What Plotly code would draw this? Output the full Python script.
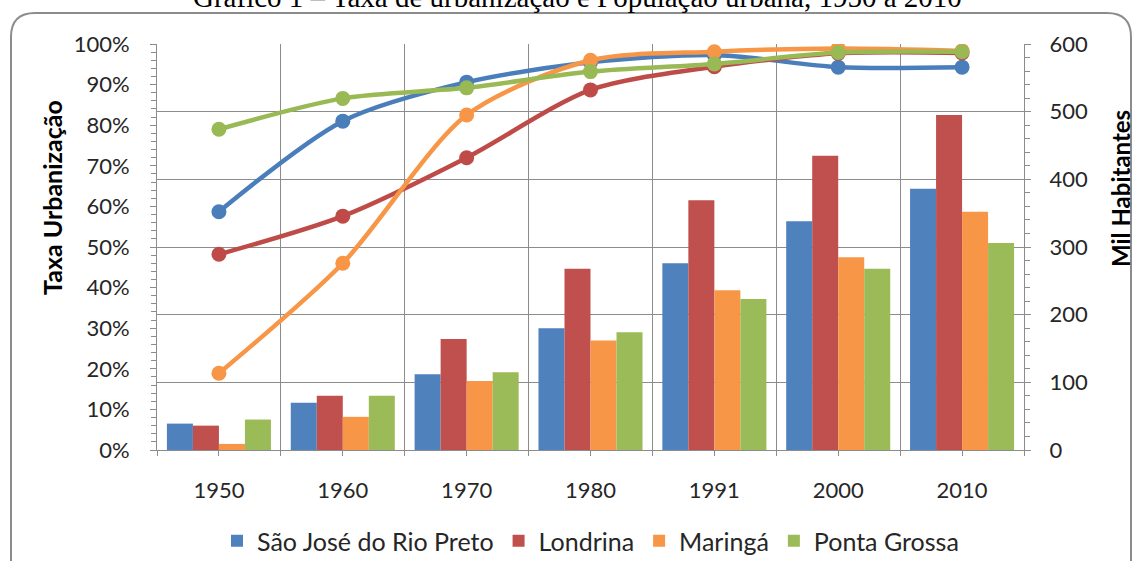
import plotly.graph_objects as go

years = ["1950", "1960", "1970", "1980", "1991", "2000", "2010"]
cities = ["São José do Rio Preto", "Londrina", "Maringá", "Ponta Grossa"]

# Taxa de urbanização (fração)
urb_sjrp = [0.587, 0.810, 0.906, 0.955, 0.973, 0.943, 0.943]
urb_lond = [0.482, 0.576, 0.720, 0.887, 0.944, 0.977, 0.978]
urb_mar = [0.189, 0.460, 0.825, 0.960, 0.981, 0.989, 0.983]
urb_pg = [0.790, 0.866, 0.892, 0.932, 0.951, 0.979, 0.981]

# População urbana (mil habitantes)
pop_sjrp = [39, 70, 112, 180, 276, 338, 386]
pop_lond = [36, 80, 164, 268, 369, 435, 495]
pop_mar = [9, 49, 102, 162, 236, 285, 352]
pop_pg = [45, 80, 115, 174, 223, 268, 306]

bar_colors = ["#4F81BD", "#C0504D", "#F79646", "#9BBB59"]
line_colors = ["#4A7EBB", "#BE4B48", "#F79646", "#98B954"]

urb = [urb_sjrp, urb_lond, urb_mar, urb_pg]
pop = [pop_sjrp, pop_lond, pop_mar, pop_pg]

xpos = list(range(len(years)))

FONT = "Lato"
TXT = "#262626"
GRID = "#8C8C8C"

fig = go.Figure()
for name, vals, col in zip(cities, pop, bar_colors):
    fig.add_trace(go.Bar(x=xpos, y=vals, name=name, marker=dict(color=col, line=dict(width=0)),
                         yaxis="y", legendgroup=name))
for name, vals, col in zip(cities, urb, line_colors):
    fig.add_trace(go.Scatter(x=xpos, y=vals, name=name, mode="lines+markers",
                             line=dict(color=col, width=4.5, shape="spline", smoothing=0.8),
                             marker=dict(color=col, size=15), yaxis="y2",
                             legendgroup=name, showlegend=False))

L, R, T, B = 157, 112, 44, 111
W, H = 1136, 561
pw, ph = W - L - R, H - T - B

def px(x):
    return (x - L) / pw

def py(y):
    return (H - B - y) / ph

# rounded chart border
x0, x1, y0, y1, r = 11, 1131, 13, 575, 24
path = (f"M {px(x0)},{py(y1)} L {px(x0)},{py(y0 + r)} Q {px(x0)},{py(y0)} {px(x0 + r)},{py(y0)} "
        f"L {px(x1 - r)},{py(y0)} Q {px(x1)},{py(y0)} {px(x1)},{py(y0 + r)} L {px(x1)},{py(y1)}")

fig.update_layout(
    width=W, height=H,
    margin=dict(l=L, r=R, t=T, b=B, autoexpand=False),
    paper_bgcolor="white", plot_bgcolor="white",
    font=dict(family=FONT, size=22, color=TXT),
    barmode="group", bargap=0.16, bargroupgap=0,
    showlegend=True,
    legend=dict(orientation="h", x=0.5, xanchor="center", y=py(541), yanchor="middle",
                font=dict(size=25, color=TXT), itemwidth=30, tracegroupgap=0,
                itemsizing="constant"),
    xaxis=dict(range=[-0.5, 6.5], tickvals=xpos, ticktext=years, showgrid=False,
               ticks="outside", ticklen=5, tickcolor=GRID, showline=True, linecolor=GRID,
               zeroline=False, fixedrange=True, ticklabelstandoff=16,
               minor=dict(tickvals=[i - 0.5 for i in range(len(years) + 1)], showgrid=True,
                          gridcolor=GRID, gridwidth=1, ticks="outside", ticklen=5, tickcolor=GRID)),
    yaxis=dict(range=[0, 600], dtick=100, side="right", showgrid=True, gridcolor=GRID,
               gridwidth=1, ticks="outside", ticklen=6, tickcolor=GRID, showline=True,
               linecolor=GRID, zeroline=False, ticklabelstandoff=14,
               minor=dict(dtick=20, ticks="outside", ticklen=5, tickcolor=GRID)),
    yaxis2=dict(range=[0, 1], dtick=0.1, tickformat=".0%", side="left", overlaying="y",
                showgrid=False, ticks="outside", ticklen=6, tickcolor=GRID, showline=True,
                linecolor=GRID, zeroline=False, ticklabelstandoff=16,
                minor=dict(dtick=0.02, ticks="outside", ticklen=5, tickcolor=GRID)),
    shapes=[dict(type="path", path=path, xref="paper", yref="paper",
                 line=dict(color="#8C8C8C", width=2), layer="below")],
    annotations=[
        dict(text="Gráfico 1 – Taxa de urbanização e População urbana, 1950 a 2010",
             x=px(577), y=py(15), xref="paper", yref="paper", showarrow=False,
             xanchor="center", yanchor="bottom",
             font=dict(family="Liberation Serif", size=29, color="#000000")),
        dict(text="<b>Taxa Urbanização</b>", x=px(52), y=py(198), xref="paper", yref="paper",
             showarrow=False, textangle=-90, xanchor="center", yanchor="middle",
             font=dict(size=25, color="#000000")),
        dict(text="<b>Mil Habitantes</b>", x=px(1121), y=py(189), xref="paper", yref="paper",
             showarrow=False, textangle=-90, xanchor="center", yanchor="middle",
             font=dict(size=24, color="#000000")),
    ],
)

fig.write_html("out.html", config={"displayModeBar": False},
               post_script="document.body.style.margin='0';document.body.style.overflow='hidden';")
